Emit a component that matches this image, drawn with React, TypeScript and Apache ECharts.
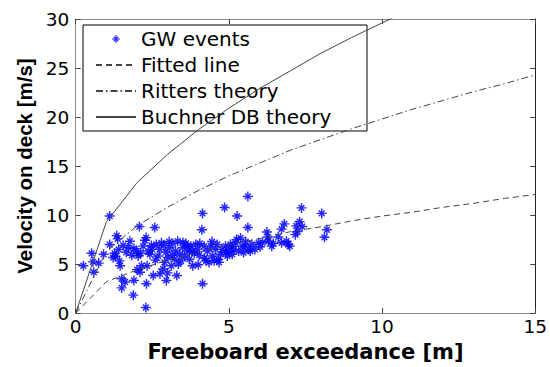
import React, { useEffect, useRef } from "react";
import * as echarts from "echarts";

// Freeboard exceedance [m] at which the theory / fit curves are sampled
const curveX = [0, 1, 2, 3, 4, 5, 6, 7, 8, 9, 10, 11, 12, 13, 14, 15];
const fittedLine = [0, 3.2, 4.4, 5.4, 6.2, 7.0, 7.6, 8.3, 8.8, 9.4, 9.9, 10.3, 10.8, 11.2, 11.7, 12.1];
const rittersTheory = [0, 6.3, 8.9, 10.8, 12.5, 14.0, 15.3, 16.6, 17.7, 18.8, 19.8, 20.8, 21.7, 22.6, 23.4, 24.3];
const buchnerTheory = [0, 9.3, 13.3, 16.2, 18.7, 20.9, 22.9, 24.7, 26.5, 28.1, 29.6, 31.1];

// GW events: [freeboard exceedance, velocity on deck]
const gwEvents: number[][] = [
  [0.25, 4.83], [0.52, 6.1], [0.56, 5.23], [0.75, 5.1], [0.59, 4.17], [0.91, 6.0], [1.11, 9.9], [1.11, 7.0],
  [1.27, 6.1], [1.22, 5.67], [1.34, 7.9], [1.37, 7.57], [1.4, 6.5], [1.43, 5.33], [1.45, 4.83], [1.5, 3.5],
  [1.5, 2.57], [1.61, 3.17], [1.72, 6.67], [1.77, 7.33], [1.83, 5.9], [1.88, 1.83], [1.9, 3.33], [2.08, 8.83],
  [1.99, 6.33], [2.04, 5.83], [2.1, 4.17], [2.15, 4.83], [2.2, 6.83], [2.26, 7.43], [2.29, 0.57], [2.31, 3.0],
  [2.33, 4.83], [2.37, 6.33], [2.42, 6.0], [2.47, 6.9], [2.53, 3.83], [2.58, 8.73], [2.63, 7.0], [2.69, 5.83],
  [2.74, 6.5], [2.8, 7.17], [2.85, 4.5], [2.9, 5.17], [2.94, 6.23], [2.96, 3.33], [3.01, 5.67], [3.06, 6.67],
  [3.12, 4.83], [3.17, 7.1], [3.23, 5.5], [3.26, 6.33], [3.3, 3.83], [3.33, 7.33], [3.39, 6.0], [3.44, 5.33],
  [3.49, 6.67], [3.55, 5.83], [3.6, 7.1], [3.66, 6.33], [3.71, 5.5], [3.76, 6.83], [3.82, 4.83], [3.87, 6.1],
  [3.92, 7.0], [3.98, 6.5], [4.03, 5.9], [4.14, 10.17], [4.12, 8.5], [4.14, 3.0], [4.19, 6.83], [4.25, 5.33],
  [4.3, 6.33], [4.35, 5.17], [4.41, 6.83], [4.46, 5.83], [4.52, 5.33], [4.57, 6.5], [4.62, 7.0], [4.68, 5.17],
  [4.73, 6.0], [4.78, 6.5], [4.86, 10.77], [4.89, 6.83], [4.95, 5.83], [5.0, 6.33], [5.05, 7.0], [5.11, 6.0],
  [5.16, 6.5], [5.27, 9.9], [5.22, 7.17], [5.32, 6.33], [5.38, 7.67], [5.43, 6.83], [5.48, 6.17], [5.54, 6.83],
  [5.62, 11.9], [5.62, 8.73], [5.65, 6.5], [5.7, 6.33], [5.75, 7.0],
  [5.97, 7.17], [6.02, 6.77], [6.24, 8.27], [6.27, 7.77], [6.29, 7.33], [6.4, 6.83], [6.61, 7.77], [6.72, 8.57],
  [6.81, 9.1], [6.72, 7.17], [6.88, 7.33], [6.94, 7.0], [6.99, 6.83], [7.2, 8.9], [7.24, 8.33], [7.17, 8.0],
  [7.31, 9.33], [7.37, 10.73], [7.39, 8.83], [8.03, 10.17], [8.2, 8.5], [8.12, 7.73],
  [1.55, 6.9], [1.65, 6.2], [1.9, 6.6], [2.12, 6.1], [2.3, 7.7], [2.5, 6.5], [2.6, 5.4], [2.75, 4.0],
  [2.88, 6.9], [3.05, 7.3], [3.15, 5.9], [3.35, 5.0], [3.5, 7.2], [3.65, 6.8], [3.8, 6.3], [4.05, 7.1],
  [4.2, 5.6], [4.45, 7.3], [4.65, 5.5], [4.9, 6.2], [5.1, 6.8], [5.25, 7.5], [5.55, 7.3], [5.85, 6.5],
  [6.1, 7.2], [6.45, 7.1], [4.0, 4.93], [3.0, 4.1], [2.0, 4.43], [1.3, 5.8],
];

const xTicks = { min: 0, max: 15, interval: 5 };
const yTicks = { min: 0, max: 30, interval: 5 };

const STAR =
  "path://M4.3,0H5.7V10H4.3Z M0,4.3H10V5.7H0Z M1.6,2.6L2.6,1.6L8.4,7.4L7.4,8.4Z M7.4,1.6L8.4,2.6L2.6,8.4L1.6,7.4Z";

const LINE_COLOR = "#444";

export default function App() {
  const ref = useRef<HTMLDivElement>(null);
  useEffect(() => {
    if (!ref.current) return;
    const chart = echarts.init(ref.current, undefined, { renderer: "svg" });
    const pair = (ys: number[]) => ys.map((y, i) => [curveX[i], y]);
    const tickFont = { fontFamily: "DejaVu Sans", fontSize: 18.5, color: "#000" };
    const hiddenSymbol = { opacity: 0, borderWidth: 0 };
    chart.setOption({
      animation: false,
      backgroundColor: "#fff",
      grid: { left: 75.7, right: 12.5, top: 19, bottom: 47.7, containLabel: false },
      legend: {
        orient: "vertical",
        left: 83,
        top: 25,
        padding: [3, 9, 3, 12],
        borderColor: "#000",
        borderWidth: 1,
        backgroundColor: "#fff",
        itemWidth: 40,
        itemHeight: 8,
        itemGap: 4,
        textStyle: { fontFamily: "DejaVu Sans", fontSize: 20, lineHeight: 22, color: "#000", width: 217 },
        data: [
          { name: "GW events" },
          { name: "Fitted line", itemStyle: hiddenSymbol },
          { name: "Ritters theory", itemStyle: hiddenSymbol },
          { name: "Buchner DB theory", itemStyle: hiddenSymbol },
        ],
      },
      xAxis: [
        {
          type: "value",
          ...xTicks,
          name: "Freeboard exceedance [m]",
          nameLocation: "middle",
          nameGap: 23,
          nameTextStyle: { fontFamily: "DejaVu Sans", fontWeight: "bold", fontSize: 21, color: "#000" },
          axisLine: { show: true, onZero: false, lineStyle: { color: "#888", width: 1 } },
          axisTick: { show: true, inside: true, length: 5, lineStyle: { color: "#444" } },
          axisLabel: { ...tickFont, margin: 4 },
          splitLine: { show: false },
        },
        {
          type: "value",
          position: "top",
          ...xTicks,
          axisLine: { show: true, onZero: false, lineStyle: { color: "#888", width: 1 } },
          axisTick: { show: true, inside: true, length: 5, lineStyle: { color: "#444" } },
          axisLabel: { show: false },
          splitLine: { show: false },
        },
      ],
      yAxis: [
        {
          type: "value",
          ...yTicks,
          name: "Velocity on deck [m/s]",
          nameLocation: "middle",
          nameGap: 40,
          nameTextStyle: { fontFamily: "Liberation Sans", fontWeight: "bold", fontSize: 20.5, color: "#000" },
          axisLine: { show: true, onZero: false, lineStyle: { color: "#888", width: 1 } },
          axisTick: { show: true, inside: true, length: 5, lineStyle: { color: "#444" } },
          axisLabel: { ...tickFont, margin: 6.5 },
          splitLine: { show: false },
        },
        {
          type: "value",
          position: "right",
          ...yTicks,
          axisLine: { show: true, onZero: false, lineStyle: { color: "#222", width: 1 } },
          axisTick: { show: true, inside: true, length: 5, lineStyle: { color: "#444" } },
          axisLabel: { show: false },
          splitLine: { show: false },
        },
      ],
      series: [
        {
          name: "GW events",
          type: "scatter",
          data: gwEvents,
          symbol: STAR,
          symbolSize: 10,
          itemStyle: { color: "#0000ff", opacity: 0.85 },
          z: 3,
        },
        {
          name: "Fitted line",
          type: "line",
          data: pair(fittedLine),
          symbol: "none",
          itemStyle: { color: LINE_COLOR },
          lineStyle: { color: LINE_COLOR, width: 1, type: [6, 4] },
          z: 4,
        },
        {
          name: "Ritters theory",
          type: "line",
          data: pair(rittersTheory),
          symbol: "none",
          itemStyle: { color: LINE_COLOR },
          lineStyle: { color: LINE_COLOR, width: 1, type: [7, 3, 1.5, 3] },
          z: 4,
        },
        {
          name: "Buchner DB theory",
          type: "line",
          data: pair(buchnerTheory),
          symbol: "none",
          clip: true,
          itemStyle: { color: LINE_COLOR },
          lineStyle: { color: LINE_COLOR, width: 1, type: "solid" },
          z: 4,
        },
      ],
    });
    return () => chart.dispose();
  }, []);
  return (
    <div
      ref={ref}
      style={{ position: "fixed", left: 0, top: 0, width: 550, height: 367 }}
    />
  );
}
